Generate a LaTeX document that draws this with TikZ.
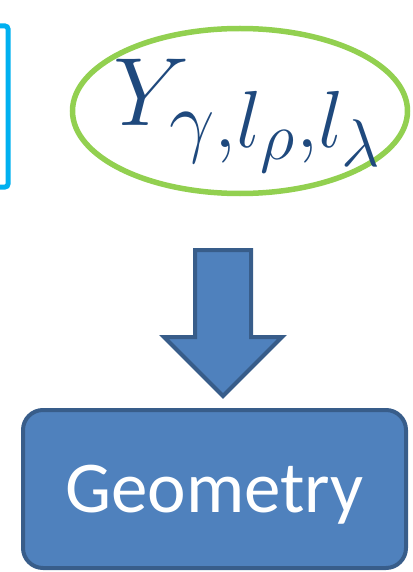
\documentclass[tikz,border=0pt]{standalone}
\usepackage{fontspec}
\usepackage{graphicx}
\newfontfamily\carlito{Carlito}
\usepackage{tikz}
\usetikzlibrary{shapes.geometric, positioning, calc}
\definecolor{PP_BLUE}{HTML}{4F81BD}
\definecolor{PP_EDGE}{HTML}{385D8A}
\definecolor{PP_GREEN}{HTML}{92D050}
\definecolor{PP_CYAN}{HTML}{00B0F0}
\definecolor{PP_NAVY}{HTML}{1F497D}
\tikzset{
  prevbox/.style={
    rectangle, rounded corners=3pt,
    minimum width=120pt, minimum height=161pt,
    draw=PP_CYAN, line width=5pt},
  varell/.style={
    ellipse, inner sep=0pt,
    minimum width=335pt, minimum height=165pt,
    draw=PP_GREEN, line width=5.5pt, text=PP_NAVY,
    font=\Huge},
  geobox/.style={
    rectangle, rounded corners=20pt,
    minimum width=383pt, minimum height=158pt,
    text centered, text depth=0pt,
    draw=PP_EDGE, fill=PP_BLUE, line width=4pt, text=white,
    font=\carlito\fontsize{73}{80}\selectfont},
  blockarr/.style={draw=PP_EDGE, fill=PP_BLUE, line width=4pt, line join=miter},
}

\begin{document}
\begin{tikzpicture}[x=1pt, y=-1pt]

  \useasboundingbox (0,0) rectangle (412,572);

  \node[prevbox] (prev) at (-52,106.5) {};

  \node[varell] (yvec) at (240,111)
    {\smash{\makebox[0pt]{\hspace{18pt}\raisebox{-14pt}{\scalebox{3.9}{$Y_{\gamma,l_\rho,l_\lambda}$}}}}};

  \node[geobox] (geo) at (214.5,489) {Geometry};

  % block arrow from the ellipse down to the box
  \coordinate (atop) at (223,250);
  \coordinate (atip) at (223,396);
  \draw[blockarr] ($(atop)+(-28,0)$) -- ($(atop)+(28,0)$) -- ++(0,87) -- ++(31,0)
    -- (atip) -- ($(atop)+(-59,87)$) -- ++(31,0) -- cycle;

\end{tikzpicture}
\end{document}
